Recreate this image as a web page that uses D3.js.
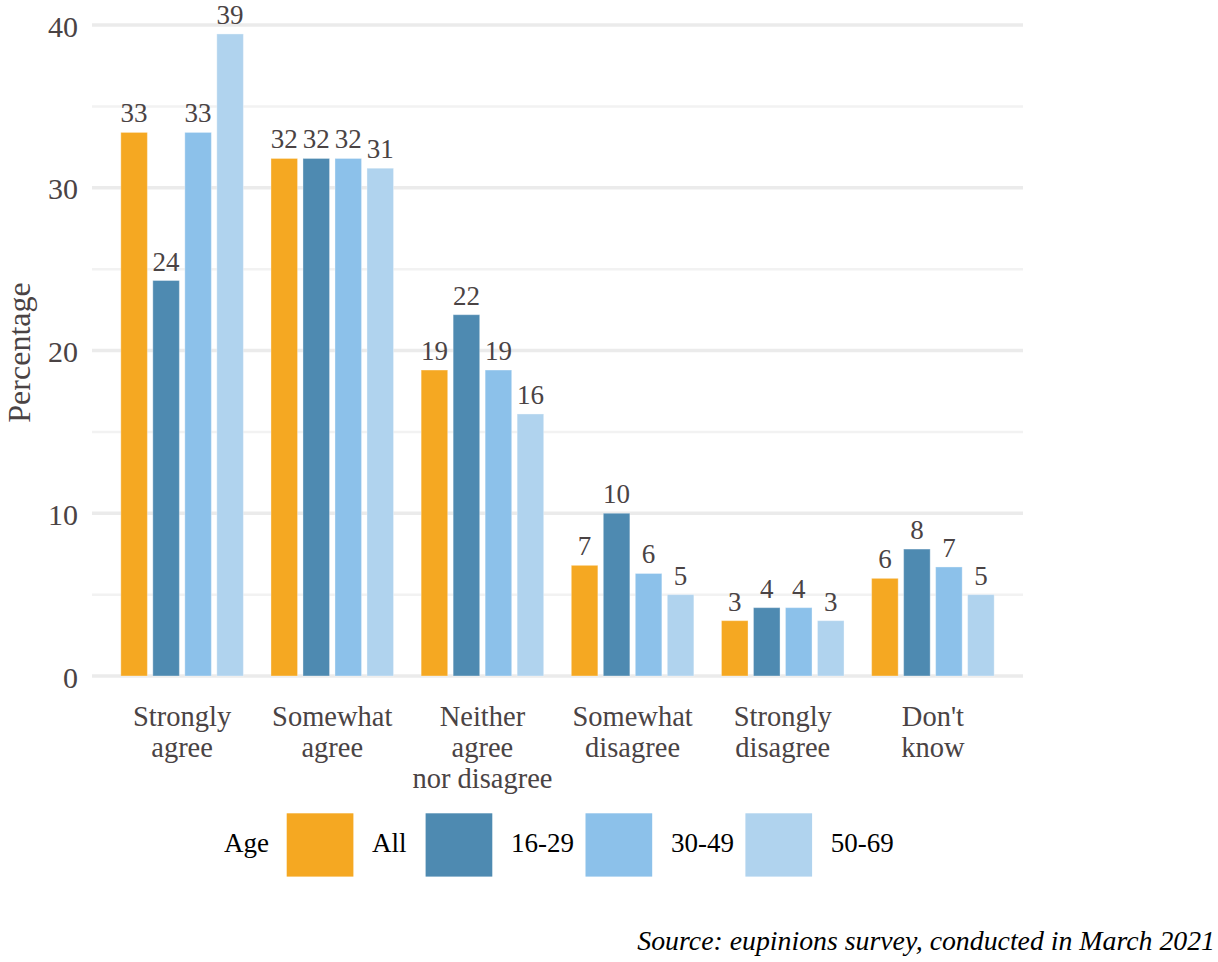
<!DOCTYPE html>
<html>
<head>
<meta charset="utf-8">
<script src="https://cdn.jsdelivr.net/npm/d3@7"></script>
<style>
  html, body { margin: 0; padding: 0; background: #fff; }
  svg { display: block; }
</style>
</head>
<body>
<svg id="chart" width="1218" height="962"></svg>
<script>
// ---- data ----
const categories = [
  ["Strongly", "agree"],
  ["Somewhat", "agree"],
  ["Neither", "agree", "nor disagree"],
  ["Somewhat", "disagree"],
  ["Strongly", "disagree"],
  ["Don't", "know"]
];
const categoryKeys = ["Strongly agree", "Somewhat agree", "Neither agree nor disagree", "Somewhat disagree", "Strongly disagree", "Don't know"];
const ageGroups = ["All", "16-29", "30-49", "50-69"];
const valuesAll   = [33.4, 31.8, 18.8, 6.8, 3.4, 6.0];
const values1629  = [24.3, 31.8, 22.2, 10.0, 4.2, 7.8];
const values3049  = [33.4, 31.8, 18.8, 6.3, 4.2, 6.7];
const values5069  = [39.45, 31.2, 16.1, 5.0, 3.4, 5.0];
const yTicks = [0, 10, 20, 30, 40];
const yMinorTicks = [5, 15, 25, 35];
const colors = ["#F5A822", "#4E8AB1", "#8CC1EA", "#B0D3EE"];
const legendTitle = "Age";
const yTitle = "Percentage";
const sourceText = "Source: eupinions survey, conducted in March 2021";

const series = [valuesAll, values1629, values3049, values5069];

// ---- layout ----
const svg = d3.select("#chart");
const panel = { left: 92, right: 1023, top: 25, bottom: 676 };
const textColor = "#4a4344";
const serif = "'Liberation Serif', 'Times New Roman', serif";

const x = d3.scalePoint().domain(categoryKeys).range([panel.left, panel.right]).padding(0.6);
const sub = d3.scaleBand().domain(ageGroups).range([-64, 64]).paddingInner(0.17).paddingOuter(0.085);
const y = d3.scaleLinear().domain([0, 40]).range([panel.bottom, panel.top]);
const color = d3.scaleOrdinal().domain(ageGroups).range(colors);

// grid
svg.append("g").selectAll("line").data(yMinorTicks).join("line")
  .attr("x1", panel.left).attr("x2", panel.right)
  .attr("y1", d => y(d)).attr("y2", d => y(d))
  .attr("stroke", "#f2f2f2").attr("stroke-width", 2.5);
svg.append("g").selectAll("line").data(yTicks).join("line")
  .attr("x1", panel.left).attr("x2", panel.right)
  .attr("y1", d => y(d)).attr("y2", d => y(d))
  .attr("stroke", "#ebebeb").attr("stroke-width", 3.5);

// y axis labels
const yAxis = d3.axisLeft(y).tickValues(yTicks).tickSize(0).tickPadding(14);
const yG = svg.append("g").attr("transform", `translate(${panel.left},0)`).call(yAxis);
yG.select(".domain").remove();
yG.attr("font-family", serif).attr("font-size", 30);
yG.selectAll("text")
  .attr("font-family", serif).attr("font-size", 30).attr("fill", textColor)
  .attr("dy", "0.37em");

// y title
svg.append("text")
  .attr("transform", `translate(30,${(panel.top + panel.bottom) / 2 + 2}) rotate(-90)`)
  .attr("text-anchor", "middle")
  .attr("font-family", serif).attr("font-size", 32).attr("fill", textColor)
  .text(yTitle);

// bars
const flat = [];
categoryKeys.forEach((c, ci) => {
  ageGroups.forEach((g, gi) => flat.push({ cat: c, group: g, value: series[gi][ci] }));
});

svg.append("g").selectAll("rect").data(flat).join("rect")
  .attr("x", d => x(d.cat) + sub(d.group))
  .attr("width", sub.bandwidth())
  .attr("y", d => y(d.value))
  .attr("height", d => y(0) - y(d.value))
  .attr("fill", d => color(d.group))
  .attr("stroke", "#ffffff").attr("stroke-opacity", 0.35).attr("stroke-width", 1);

svg.append("g").selectAll("text").data(flat).join("text")
  .attr("x", d => x(d.cat) + sub(d.group) + sub.bandwidth() / 2)
  .attr("y", d => y(d.value) - 10)
  .attr("text-anchor", "middle")
  .attr("font-family", serif).attr("font-size", 27).attr("fill", textColor)
  .text(d => d3.format(".0f")(d.value));

// x axis labels
const xG = svg.append("g");
categoryKeys.forEach((c, ci) => {
  const t = xG.append("text")
    .attr("x", x(c)).attr("y", 726)
    .attr("text-anchor", "middle")
    .attr("font-family", serif).attr("font-size", 28.5).attr("fill", textColor);
  categories[ci].forEach((line, li) => {
    t.append("tspan").attr("x", x(c)).attr("y", 726 + li * 31).text(line);
  });
});

// legend
const leg = svg.append("g");
const legBase = 852;
leg.append("text").attr("x", 224).attr("y", legBase)
  .attr("font-family", serif).attr("font-size", 27).attr("fill", "#000").text(legendTitle);
let lx = 286.7;
ageGroups.forEach((g, i) => {
  leg.append("rect").attr("x", lx).attr("y", 813.3).attr("width", 66.7).attr("height", 63.3)
    .attr("fill", color(g));
  const tx = lx + 66.7 + 18.7;
  const t = leg.append("text").attr("x", tx).attr("y", legBase)
    .attr("font-family", serif).attr("font-size", 27).attr("fill", "#000").text(g);
  const w = t.node().getComputedTextLength();
  lx = tx + Math.max(w, 42) + 11.5;
});

// source
svg.append("text").attr("x", 1215).attr("y", 950)
  .attr("text-anchor", "end")
  .attr("font-family", serif).attr("font-style", "italic").attr("font-size", 27.8)
  .attr("fill", "#000").text(sourceText);
</script>
</body>
</html>
